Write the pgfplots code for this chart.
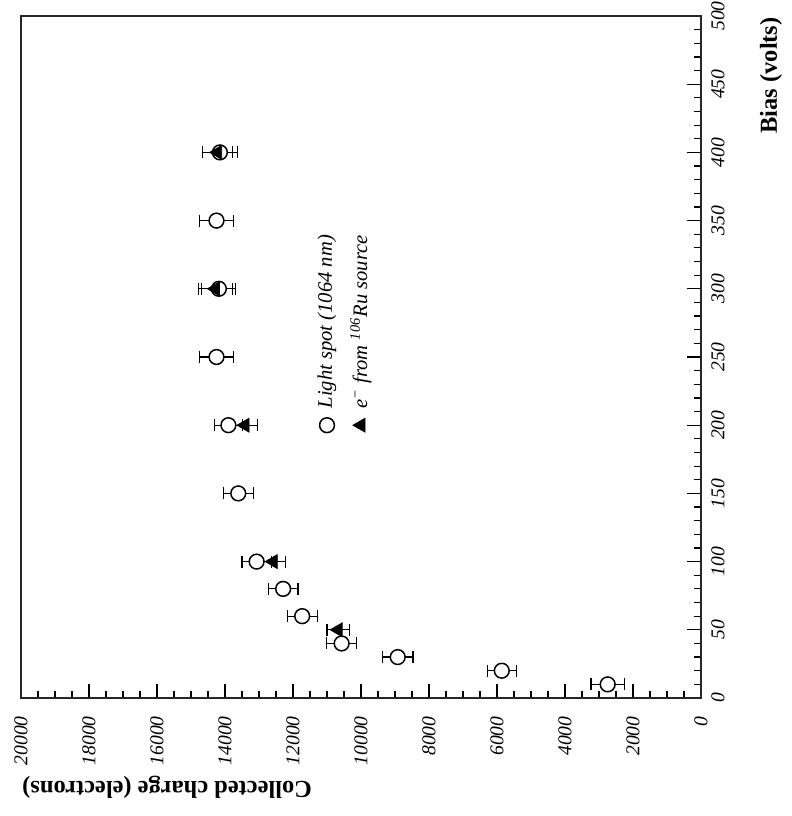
\documentclass[border=0pt]{standalone}
\usepackage{fontspec}
\setmainfont{Liberation Serif}
\usepackage{pgfplots}
\pgfplotsset{compat=1.18}
\usepackage{pgfplotstable}

\pgfplotstableread{
b c e
10 2745 490
20 5860 430
30 8920 450
40 10570 440
60 11730 440
80 12290 440
100 13070 430
150 13610 440
200 13900 420
250 14250 510
300 14180 500
350 14250 510
400 14150 510
}\lightspot

\pgfplotstableread{
b c e
50 10670 330
100 12580 370
200 13410 360
300 14280 505
400 14215 440
}\ruthenium

\begin{document}
\begin{tikzpicture}
\begin{axis}[name=ax, scale only axis, width=340pt, height=341pt,
 x dir=reverse, xmin=0, xmax=20000, ymin=0, ymax=500,
 xtick={0,2000,...,20000}, ytick={0,50,...,500},
 minor x tick num=3, minor y tick num=4,
 scaled x ticks=false, scaled y ticks=false,
 xtick pos=left, ytick pos=right, xticklabel pos=left, yticklabel pos=right,
 tick align=inside, major tick length=7pt, minor tick length=3.5pt,
 tick style={black, line width=0.6pt},
 axis line style={line width=0.8pt, black!85},
 /pgf/number format/1000 sep={}, /pgf/number format/assume math mode=true,
 ticklabel style={font=\fontsize{9.8}{11}\selectfont\itshape},
 xticklabel style={rotate=90, anchor=east, inner sep=0pt},
 yticklabel style={rotate=90, anchor=north, inner sep=0pt},
 xticklabel shift=9pt, yticklabel shift=5pt,
 clip=false,
]
\addplot[only marks, mark=*, mark size=3.7pt, mark options={fill=white, draw=black, line width=0.75pt},
  error bars/.cd, x dir=both, x explicit, error mark=|,
  error bar style={line width=0.6pt, black},
  error mark options={mark size=3pt, line width=0.6pt, black}]
  table[x=c, y=b, x error=e]{\lightspot};
\addplot[only marks, mark=triangle*, mark size=4pt, mark options={rotate=90, fill=black, draw=black},
  error bars/.cd, x dir=both, x explicit, error mark=|,
  error bar style={line width=0.6pt, black},
  error mark options={mark size=3pt, line width=0.6pt, black}]
  table[x=c, y=b, x error=e]{\ruthenium};
% legend markers
\addplot[only marks, mark=*, mark size=3.7pt, mark options={fill=white, draw=black, line width=0.75pt}]
  coordinates {(11000,200)};
\addplot[only marks, mark=triangle*, mark size=4pt, mark options={rotate=90, fill=black, draw=black}]
  coordinates {(10000,200)};
\node[rotate=90, anchor=west, inner sep=0pt, font=\fontsize{10.3}{12}\selectfont\itshape]
  at (axis cs:11000,212) {Light spot (1064 nm)};
\node[rotate=90, anchor=west, inner sep=0pt, font=\fontsize{10.3}{12}\selectfont\itshape]
  at (axis cs:10000,212) {e\textsuperscript{−} from \textsuperscript{106}Ru source};
\end{axis}
\node[rotate=180, anchor=east, inner sep=0pt, font=\fontsize{12.2}{14}\selectfont\bfseries]
  at ([shift={(0.5pt,-44.5pt)}]ax.south west) {Collected charge (electrons)};
\node[rotate=90, anchor=east, inner sep=0pt, font=\fontsize{12.2}{14}\selectfont\bfseries]
  at ([shift={(35pt,-0.5pt)}]ax.north east) {Bias (volts)};
\pgfresetboundingbox
\path[use as bounding box] ([shift={(-10.5pt,-59pt)}]ax.south west) rectangle ([shift={(45pt,8pt)}]ax.north east);
\end{tikzpicture}
\end{document}
